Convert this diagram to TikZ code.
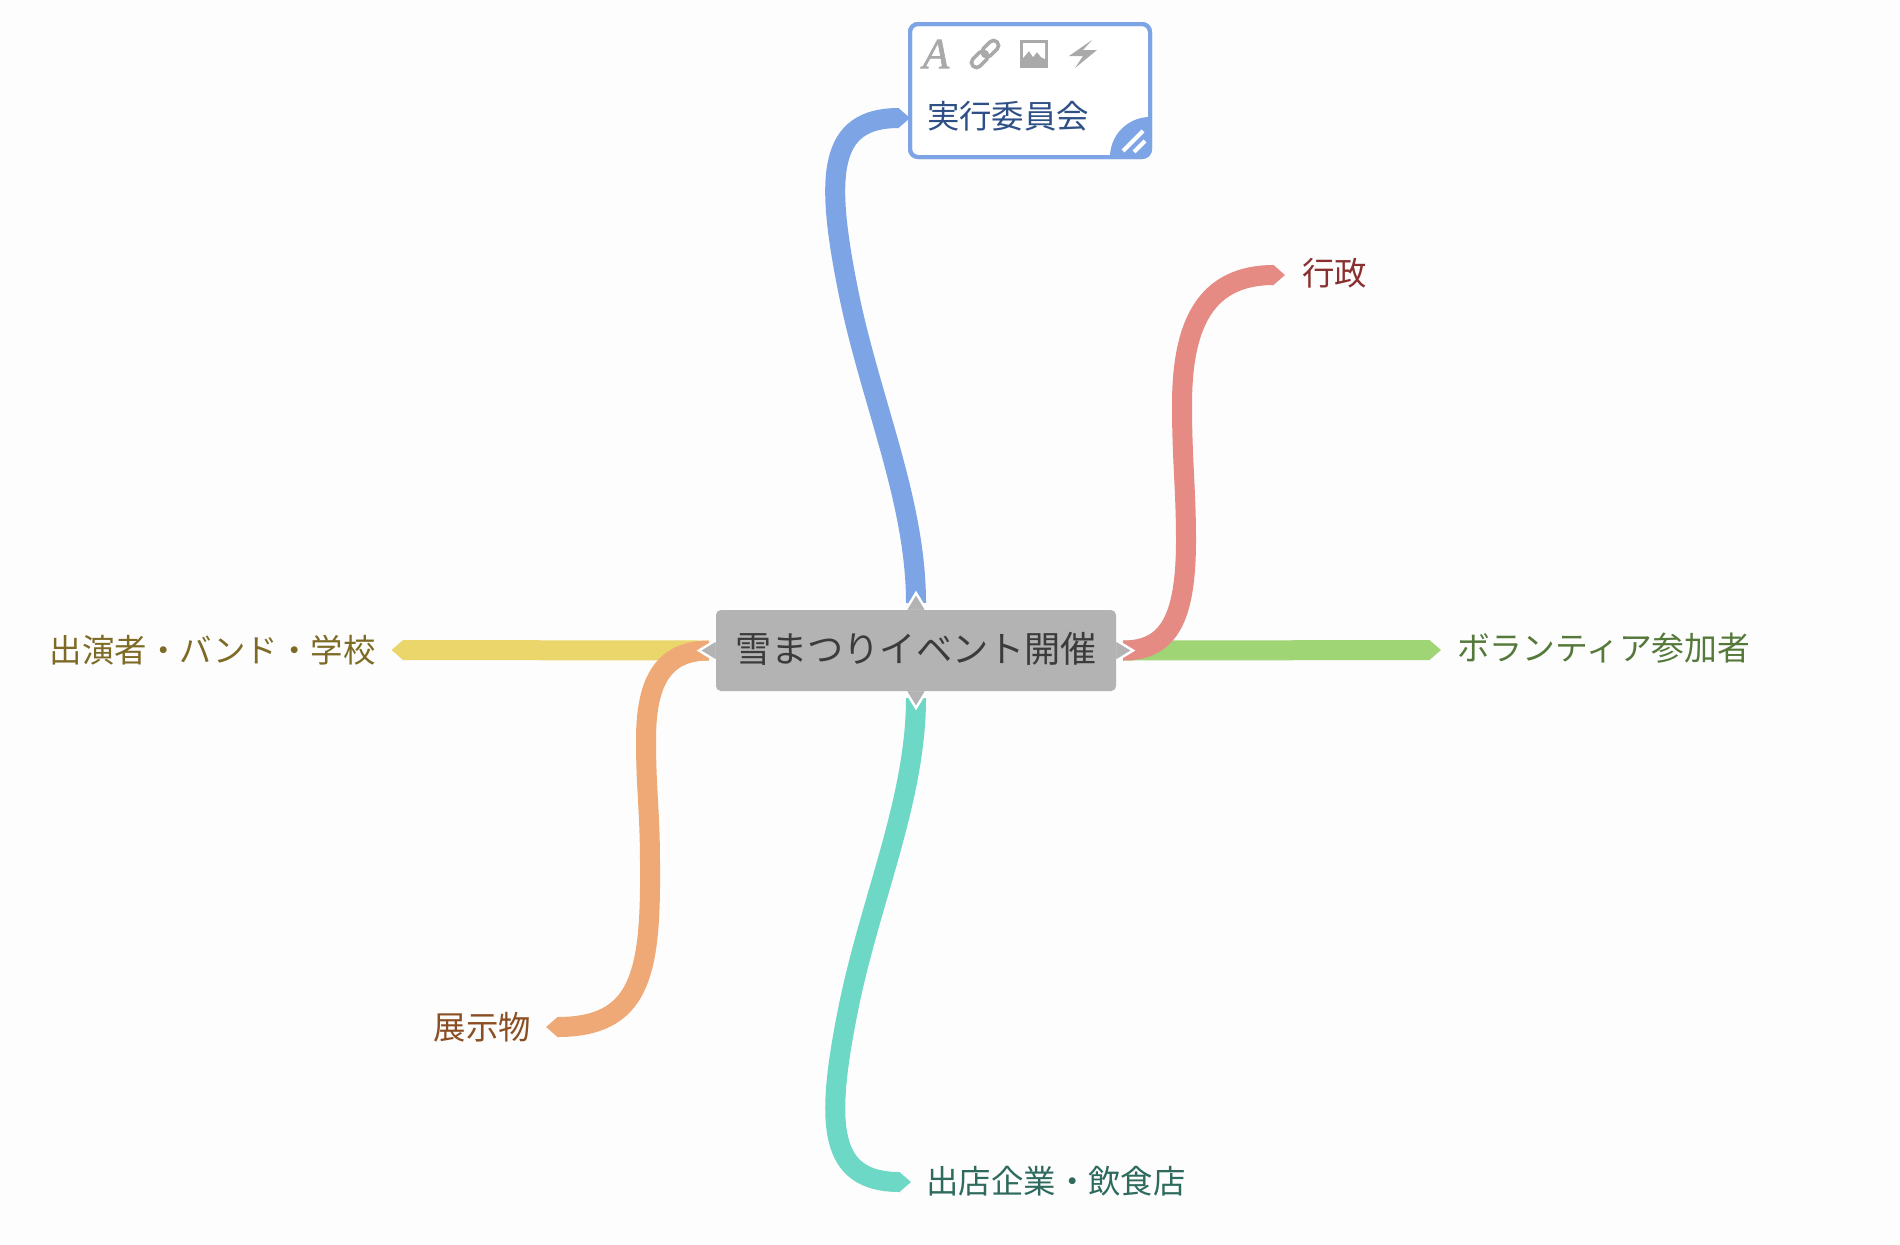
\documentclass[tikz,border=0pt]{standalone}
\usepackage{fontspec}
\setmainfont{Noto Sans CJK JP}
\newfontfamily\iconserif[FakeBold=1.5]{Liberation Serif}
\usetikzlibrary{arrows.meta,calc}
\pgfdeclarelayer{back}
\pgfsetlayers{back,main}
\definecolor{pagebg}{HTML}{FDFDFD}
\definecolor{cblue}{HTML}{7DA4E4}
\definecolor{cred}{HTML}{E68A84}
\definecolor{cgreen}{HTML}{A0D575}
\definecolor{cyellow}{HTML}{EAD66A}
\definecolor{corange}{HTML}{EFA976}
\definecolor{cteal}{HTML}{6DD8C5}
\definecolor{tblue}{HTML}{2F5087}
\definecolor{tred}{HTML}{8A2F2F}
\definecolor{tgreen}{HTML}{55793A}
\definecolor{tyellow}{HTML}{7D6A25}
\definecolor{torange}{HTML}{8A4E22}
\definecolor{tteal}{HTML}{2E6B5E}
\definecolor{boxgray}{HTML}{B3B3B3}
\definecolor{icongray}{HTML}{A9A9A9}
\tikzset{
  ribbon/.style={line width=10pt,-{Triangle[length=6pt,width=10pt]}},
  lab/.style={inner sep=0pt,outer sep=0pt,font=\fontsize{16.2}{18}\selectfont,text height=14.5pt,text depth=2pt,anchor=west},
  notch/.style={fill=boxgray,draw=white,line width=1.2pt,line join=miter},
  linkring/.style={icongray,line width=1.8pt,rounded corners=2.4pt},
}
\begin{document}
\begin{tikzpicture}[x=0.5pt,y=-0.5pt]
\useasboundingbox (0,0) rectangle (1900,1244);
\begin{pgfonlayer}{back}
\fill[pagebg] (0,0) rectangle (1900,1244);
\end{pgfonlayer}

% centre
\node[inner sep=0pt,outer sep=0pt,minimum width=200pt,minimum height=40.5pt] (c) at (916,650.5) {};
\fill[notch] ($(c.north)+(-11,1)$) -- ($(c.north)+(0,-17)$) -- ($(c.north)+(11,1)$) -- cycle;
\fill[notch] ($(c.south)+(-11,-1)$) -- ($(c.south)+(0,17)$) -- ($(c.south)+(11,-1)$) -- cycle;
\fill[notch] ($(c.west)+(1,-11)$) -- ($(c.west)+(-17,0)$) -- ($(c.west)+(1,11)$) -- cycle;
\fill[notch] ($(c.east)+(-1,-11)$) -- ($(c.east)+(17,0)$) -- ($(c.east)+(-1,11)$) -- cycle;
\node[fill=boxgray,rounded corners=2.5pt,inner sep=0pt,outer sep=0pt,minimum width=200pt,minimum height=40.5pt,text=black!77,font=\fontsize{18.1}{20}\selectfont,text height=14.5pt,text depth=2.5pt] (ctext) at (c) {雪まつりイベント開催};

% selected box
\node[draw=cblue,fill=white,line width=2pt,rounded corners=4pt,inner sep=0pt,outer sep=0pt,minimum width=120pt,minimum height=66.5pt] (b) at (1030,90.5) {};
\begin{scope}
\clip[rounded corners=4pt] (b.south west) rectangle (b.north east);
\fill[cblue] (b.south east) circle[radius=20pt];
\end{scope}
\draw[cblue,line width=2pt,rounded corners=4pt] (b.south west) rectangle (b.north east);
\draw[white,line width=2pt] (1123,151) -- (1143,131);
\draw[white,line width=2pt] (1134,152) -- (1145,141);
\node[lab,text=tblue] (lb) at (927,116) {実行委員会};

% toolbar icons
\node[inner sep=0pt,text=icongray,font=\iconserif\itshape\fontsize{21.5}{22}\selectfont] (iconA) at (936,54) {A};
\begin{scope}[shift={(985,54)},rotate=45]
\draw[linkring] (-17,-5) rectangle (2,5);
\draw[linkring] (-2,-5) rectangle (17,5);
\end{scope}
\fill[icongray] (1020,40) rectangle (1048,68);
\fill[white] (1023,43) -- (1045,43) -- (1045,59) -- (1041,57) -- (1037,52) -- (1033,57) -- (1029,51) -- (1023,58) -- cycle;
\fill[icongray] (1092,40) -- (1069,56) -- (1083,56) -- (1075,68) -- (1097,50) -- (1083,50) -- cycle;

% labels
\node[lab,text=tred] (lr) at (1302,273) {行政};
\node[lab,text=tgreen,font=\fontsize{16.4}{18}\selectfont] (lg) at (1457,648) {ボランティア参加者};
\node[lab,text=tyellow,anchor=east] (ly) at (375.5,650) {出演者・バンド・学校};
\node[lab,text=torange,anchor=east] (lo) at (531,1027) {展示物};
\node[lab,text=tteal] (lt) at (926.5,1180.5) {出店企業・飲食店};

% connectors
\begin{pgfonlayer}{back}
\draw[ribbon,cgreen] ($(c.east)+(7,0)$) -- ($(lg.west)+(-16,2)$);
\draw[ribbon,cyellow] ($(c.west)+(-7,0)$) -- ($(ly.east)+(16,0)$);
\draw[ribbon,cred] ($(c.east)+(7,0)$) .. controls +(45,0) and (1186,620) .. (1186,540)
  .. controls (1186,490) and (1182,460) .. (1182,405)
  .. controls (1182,325) and (1205,275) .. ($(lr.west)+(-17,2)$);
\draw[ribbon,corange] ($(c.west)+(-7,0)$) .. controls +(-45,0) and (646,680) .. (646,740)
  .. controls (646,790) and (650,810) .. (650,865)
  .. controls (651,975) and (640,1027) .. ($(lo.east)+(15,0)$);
\draw[ribbon,cblue] ($(c.north)+(0,-7)$) .. controls (916,500) and (870,400) .. (848,290)
  .. controls (825,175) and (828,118) .. ($(b.west |- lb.west)+(0,2)$);
\draw[ribbon,cteal] ($(c.south)+(0,7)$) .. controls (916,800) and (870,900) .. (848,1010)
  .. controls (825,1125) and (828,1182) .. ($(lt.west)+(-15.5,1.5)$);
\end{pgfonlayer}
\end{tikzpicture}
\end{document}
